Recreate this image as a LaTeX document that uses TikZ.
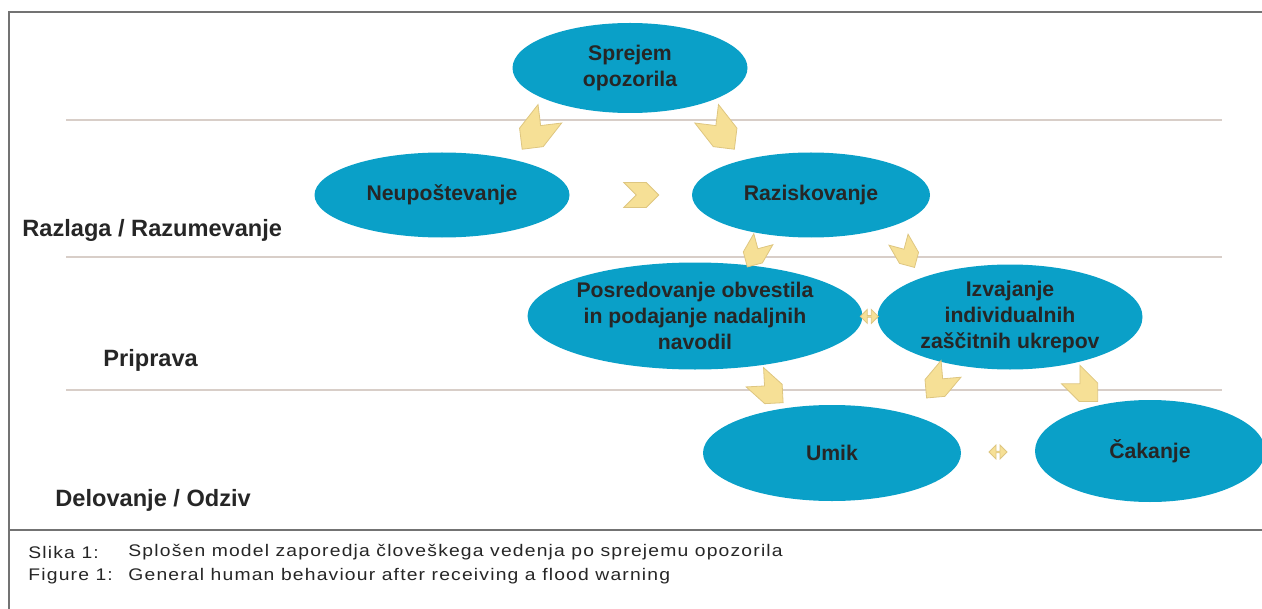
\documentclass[tikz,border=0pt]{standalone}
\usepackage{fontspec}
\setmainfont{Liberation Sans}
\newfontfamily\capfont{Liberation Sans}[FakeStretch=1.15, LetterSpace=7]
\usepackage{xcolor}
\usepackage{tikz}
\usetikzlibrary{calc, shapes, shapes.symbols, shapes.arrows, positioning}

\definecolor{ovalblue}{RGB}{10,160,200}
\definecolor{chevfill}{RGB}{246,224,150}
\definecolor{chevedge}{RGB}{222,198,128}
\definecolor{bandgray}{RGB}{216,206,200}
\definecolor{framegray}{RGB}{115,115,115}
\definecolor{textgray}{RGB}{38,38,38}

\begin{document}
\begin{tikzpicture}[x=0.5pt, y=-0.5pt,
			state/.style={ellipse, fill=ovalblue, text=textgray, inner sep=0pt, align=center, font=\fontsize{10.6}{13}\selectfont\bfseries},
			chevron/.style={signal, signal to=east, signal from=west, signal pointer angle=90, fill=chevfill, draw=chevedge, line width=0.4pt, minimum width=19pt, minimum height=13pt, inner sep=0pt},
			bigchevron/.style={chevron, minimum width=22.5pt, minimum height=15pt},
			swap/.style={double arrow, fill=chevfill, draw=chevedge, line width=0.4pt, minimum width=7pt, minimum height=9pt, double arrow head extend=1.5pt, inner sep=0pt},
			level/.style={anchor=west, inner sep=0pt, text=textgray, font=\fontsize{11.8}{14}\selectfont\bfseries},
			caption/.style={anchor=west, inner sep=0pt, text=textgray, font=\capfont\fontsize{8.4}{10}\selectfont},
			band/.style={draw=bandgray, line width=1pt}
			]
			\useasboundingbox (0,0) rectangle (1262,609);
			
			% frame and levels
			\draw[framegray, line width=0.8pt] (9,609) -- (9,12) -- (1262,12);
			\draw[framegray, line width=0.8pt] (9,530) -- (1262,530);
			\foreach \y in {120,257,390}
			\draw[band] (66,\y) -- (1222,\y);
			
			\node [level](razlaga) at (22,230) {Razlaga / Razumevanje};
			\node [level](priprava) at (103,360) {Priprava};
			\node [level](delovanje) at (55,500) {Delovanje / Odziv};
			
			\node [state, minimum width=117.5pt, minimum height=45pt](sprejem) at (630,68) {Sprejem\\opozorila};
			
			\node [state, minimum width=127.5pt, minimum height=42.5pt](neupost) at (442,195) {Neupoštevanje};
			\node [state, minimum width=119pt, minimum height=42.5pt](razisk) at (811,195) {Raziskovanje};
			
			\node [state, minimum width=138pt, minimum height=53.5pt](posred) at (695,316) {Posredovanje obvestila\\in podajanje nadaljnih\\navodil};
			\node [state, minimum width=132.5pt, minimum height=52.5pt](izvaj) at (1010,317) {Izvajanje\\individualnih\\zaščitnih ukrepov};
			
			\node [state, minimum width=129pt, minimum height=48pt](umik) at (832,453) {Umik};
			\node [state, minimum width=115pt, minimum height=51pt](cakanje) at (1150,451) {Čakanje};
			
			% arrows between the stages
			\node [bigchevron, rotate=-128] (c1) at ($(sprejem)!0.5!(neupost)$) {};
			\node [bigchevron, rotate=-52] (c2) at ($(sprejem)!0.5!(razisk)$) {};
			\node [chevron, minimum width=17.5pt, minimum height=12.5pt] (c3) at ($(neupost)!0.54!(razisk)$) {};
			\node [chevron, rotate=-120, minimum width=16pt, minimum height=11pt] (c4) at ($(razisk)!0.48!(posred)$) {};
			\node [chevron, rotate=-60, minimum width=16pt, minimum height=11pt] (c5) at ($(razisk)!0.48!(izvaj)$) {};
			\node [chevron, rotate=-42] (c6) at ($(posred)!0.54!(umik)$) {};
			\node [chevron, rotate=-130] (c7) at ($(izvaj)!0.4!(umik)+(0,12)$) {};
			\node [chevron, rotate=-45] (c8) at ($(izvaj)!0.53!(cakanje)$) {};
			
			\node [swap] (s1) at ($(posred.east)!0.45!(izvaj.west)$) {};
			\node [swap] (s2) at ($(umik.east)!0.5!(cakanje.west)$) {};
			
			\node [caption](slika) at (28,552) {Slika 1:};
			\node [caption](slikatxt) at (128,552) {Splošen model zaporedja človeškega vedenja po sprejemu opozorila};
			\node [caption](figure) at (28,576) {Figure 1:};
			\node [caption](figuretxt) at (128,576) {General human behaviour after receiving a flood warning};
			
		\end{tikzpicture}
\end{document}
